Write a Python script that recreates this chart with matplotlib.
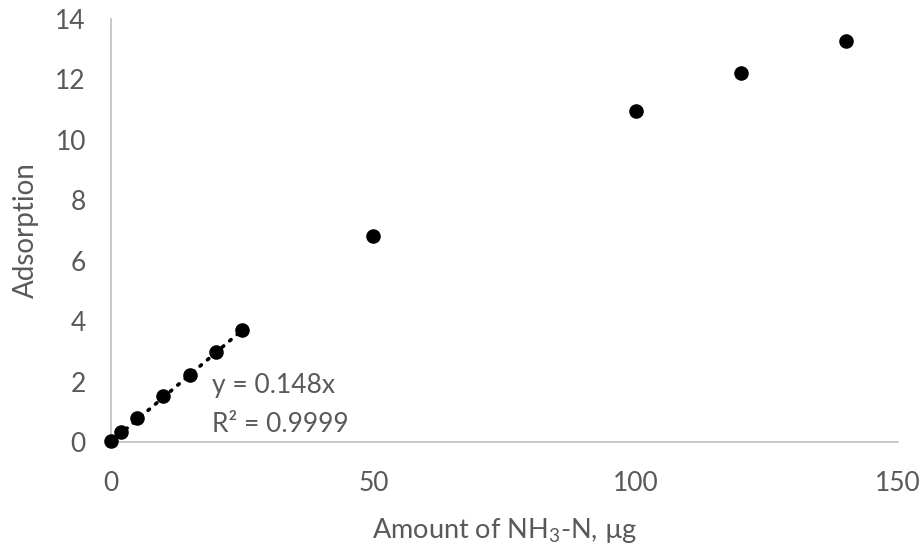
import matplotlib
matplotlib.use("Agg")
import matplotlib.pyplot as plt
import numpy as np

# Calibration data: ammonia nitrogen amount vs. measured adsorption
amount_ug = [0, 2, 5, 10, 15, 20, 25, 50, 100, 120, 140]
adsorption = [0.02, 0.32, 0.78, 1.52, 2.22, 2.98, 3.70, 6.82, 10.95, 12.20, 13.28]

# Linear fit through origin over the low range (0-25 µg)
slope = 0.148
r_squared = 0.9999
fit_x = [0, 25]

x_ticks = [0, 50, 100, 150]
y_ticks = [0, 2, 4, 6, 8, 10, 12, 14]

text_color = "#595959"
axis_color = "#BFBFBF"

plt.rcParams["font.family"] = ["Lato", "DejaVu Sans"]
plt.rcParams["mathtext.fontset"] = "custom"
plt.rcParams["mathtext.rm"] = "Lato"
plt.rcParams["mathtext.it"] = "Lato:italic"
plt.rcParams["mathtext.bf"] = "Lato:bold"

fig = plt.figure(figsize=(9.24, 5.50), dpi=100)
ax = fig.add_axes([0.1201, 0.1964, 0.8518, 0.7691])

fx = np.array(fit_x, dtype=float)
ax.plot(fx, slope * fx, color="black", linewidth=2.6,
        linestyle=(0, (0.5, 2.2)), dash_capstyle="round", zorder=2)

ax.scatter(amount_ug, adsorption, s=110, color="black", zorder=3,
           clip_on=False, linewidths=0)

ax.text(19.2, 1.62, f"y = {slope}x", color=text_color, fontsize=19,
        ha="left", va="baseline")
ax.text(19.2, 0.33, f"R² = {r_squared}", color=text_color, fontsize=19,
        ha="left", va="baseline")

ax.set_xlim(0, 150)
ax.set_ylim(0, 14)
ax.set_xticks(x_ticks)
ax.set_yticks(y_ticks)

for side in ("top", "right"):
    ax.spines[side].set_visible(False)
for side in ("left", "bottom"):
    ax.spines[side].set_color(axis_color)
    ax.spines[side].set_linewidth(1.2)

ax.tick_params(axis="both", length=0, labelsize=19, labelcolor=text_color)
ax.tick_params(axis="y", pad=18)
ax.tick_params(axis="x", pad=21)

ax.set_xlabel(r"Amount of NH$_\mathrm{3}$-N, µg", color=text_color, fontsize=19.5,
              labelpad=14)
ax.set_ylabel("Adsorption", color=text_color, fontsize=20, labelpad=12)

fig.savefig("out.png", dpi=100, facecolor="white")
